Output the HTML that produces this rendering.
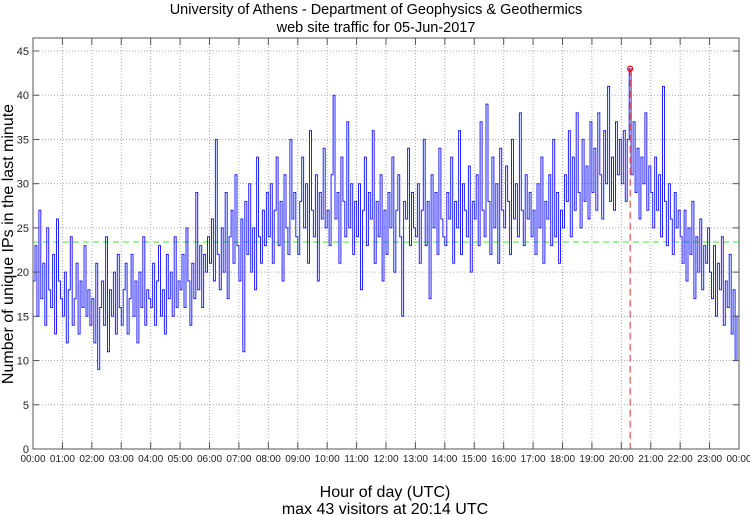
<!DOCTYPE html>
<html><head><meta charset="utf-8"><style>
body{margin:0;background:#fff;}
svg{display:block;font-family:"Liberation Sans",sans-serif;}
</style></head><body>
<svg id="chart" width="750" height="515" viewBox="0 0 750 515">
<text x="376" y="14" font-size="14.5" text-anchor="middle">University of Athens - Department of Geophysics &amp; Geothermics</text>
<text x="376" y="32" font-size="14.5" text-anchor="middle">web site traffic for 05-Jun-2017</text>
<text transform="translate(13,244) rotate(-90)" font-size="16" text-anchor="middle">Number of unique IPs in the last minute</text>
<text x="385" y="497" font-size="16" text-anchor="middle">Hour of day (UTC)</text>
<text x="385" y="514" font-size="16" text-anchor="middle">max 43 visitors at 20:14 UTC</text>
<g id="grid"></g>
<g id="marks"></g>
<rect x="33" y="38" width="706" height="411" fill="none" stroke="#555" stroke-width="1"/>
<g id="axes"></g>
</svg>
<script>
const yTicks=[0,5,10,15,20,25,30,35,40,45];
const xTickLabels=["00:00","01:00","02:00","03:00","04:00","05:00","06:00","07:00","08:00","09:00","10:00","11:00","12:00","13:00","14:00","15:00","16:00","17:00","18:00","19:00","20:00","21:00","22:00","23:00","00:00"];
const minuteStep=4;
const meanValue=23.4;
const visitors=[
19,23,15,27,17,21,14,25,18,16,22,13,26,19,17,
15,20,12,18,24,14,17,21,13,19,16,23,15,18,14,
17,12,21,9,16,19,14,24,11,18,15,20,13,22,16,
14,18,21,13,17,22,15,19,12,20,16,24,14,18,17,
16,21,14,19,23,15,18,13,22,17,20,15,24,16,19,
18,22,16,25,19,14,21,17,29,18,23,16,22,20,24,
21,26,19,35,22,18,25,20,29,17,24,27,21,31,23,
19,26,11,28,22,30,20,25,18,33,24,21,27,23,29,
24,30,21,27,33,23,28,19,31,25,22,35,26,29,24,
22,28,33,25,30,21,36,27,24,31,19,29,26,34,25,
27,23,31,40,26,29,21,33,28,24,37,25,30,22,28,
24,30,18,27,33,23,29,26,36,21,28,24,31,19,27,
22,29,25,33,20,27,31,24,15,28,26,34,23,29,25,
24,30,21,27,35,23,28,17,31,25,29,22,34,26,24,
23,29,26,33,21,28,25,36,22,30,27,24,32,20,28,
26,31,23,37,27,24,39,28,22,33,25,30,21,34,27,
25,32,28,22,35,26,30,24,38,27,23,31,26,29,24,
27,22,30,25,33,21,28,26,31,23,35,24,29,21,27,
25,31,28,36,24,33,27,38,29,25,35,28,32,26,37,
29,34,27,38,31,26,36,30,41,28,33,27,37,31,35,
30,36,28,35,43,31,37,29,34,26,33,30,38,27,32,
29,25,33,27,31,24,41,28,23,30,26,22,29,25,27,
24,21,27,19,25,22,28,17,24,20,26,18,23,21,25,
20,17,23,15,21,18,24,14,19,16,22,13,18,10,15
];
const NS="http://www.w3.org/2000/svg";
const X0=33,X1=739,Y0=449,Y45=51;
function xScale(min){return X0+(X1-X0)*min/1440;}
function yScale(v){return Y0-(Y0-Y45)*v/45;}
const grid=document.getElementById('grid'),axes=document.getElementById('axes'),marks=document.getElementById('marks');
function mk(tag,attrs,parent){const e=document.createElementNS(NS,tag);for(const k in attrs)e.setAttribute(k,attrs[k]);parent.appendChild(e);return e;}
yTicks.forEach(t=>{
  const y=yScale(t);
  if(t>0){const g=mk('line',{x1:X0,x2:X1,y1:y,y2:y,stroke:'#aaa','stroke-dasharray':'1,2'},grid);
  
  }
  mk('line',{x1:X0,x2:X0+6,y1:y,y2:y,stroke:'#555'},axes);
  mk('line',{x1:X1-6,x2:X1,y1:y,y2:y,stroke:'#555'},axes);
  const l=mk('text',{x:X0-4,y:y+4,'font-size':11,'text-anchor':'end',fill:'#222'},axes);
  l.textContent=t;
  
  
});
xTickLabels.forEach((s,i)=>{
  const x=xScale(i*60);
  if(i>0&&i<24){const g=mk('line',{x1:x,x2:x,y1:38,y2:Y0,stroke:'#aaa','stroke-dasharray':'1,2'},grid);
  
  }
  mk('line',{x1:x,x2:x,y1:Y0,y2:Y0-7,stroke:'#555'},axes);
  mk('line',{x1:x,x2:x,y1:38,y2:45,stroke:'#555'},axes);
  const l=mk('text',{x:x,y:462,'font-size':10,'text-anchor':'middle',fill:'#222'},axes);
  l.textContent=s;
  
  
});
const ml=mk('line',{x1:X0,x2:X1,y1:yScale(meanValue),y2:yScale(meanValue),stroke:'#33ee33','stroke-dasharray':'6,4','stroke-width':1},marks);


let d='';
visitors.forEach((v,i)=>{const x=xScale(i*minuteStep),y=yScale(v);
  d+=(i===0?'M':'L')+x.toFixed(1)+','+y.toFixed(1)+' L'+xScale((i+1)*minuteStep).toFixed(1)+','+y.toFixed(1)+' ';});
const p=mk('path',{d:d,fill:'none',stroke:'#2222ff','stroke-width':1},marks);


let mi=0;visitors.forEach((v,i)=>{if(v>visitors[mi])mi=i;});
const mx=xScale(mi*minuteStep+minuteStep/2),my=yScale(visitors[mi]);
const rl=mk('line',{x1:mx,x2:mx,y1:my,y2:Y0,stroke:'#f05050','stroke-dasharray':'7,4','stroke-width':1.2},marks);


const mc=mk('circle',{cx:mx,cy:my,r:2.5,fill:'none',stroke:'#e00','stroke-width':1.2},marks);


</script>
</body></html>
